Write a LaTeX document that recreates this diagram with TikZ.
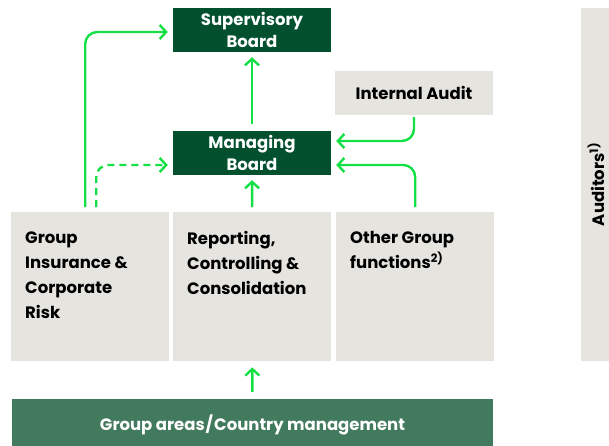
\documentclass[tikz,border=0pt]{standalone}
\usepackage{fontspec}
\setmainfont{Poppins}
\usetikzlibrary{arrows.meta}
\definecolor{boardgreen}{HTML}{03502E}
\definecolor{bargreen}{HTML}{427A5E}
\definecolor{boxgrey}{HTML}{E5E4DE}
\definecolor{linkgreen}{HTML}{14E046}
\newcommand{\boxtext}[1]{\parbox[t][110pt][t]{130pt}{\fontsize{16.5}{25}\selectfont #1}}
\begin{document}
\begin{tikzpicture}[x=1pt, y=-1pt,
      every node/.style={font=\bfseries},
      board/.style={rectangle, fill=boardgreen, text=white, minimum width=158pt, minimum height=44pt, inner sep=0pt, align=center, font=\bfseries\fontsize{16.5}{22}\selectfont},
      grey/.style={rectangle, fill=boxgrey, text=black, inner sep=0pt},
      unit/.style={grey, anchor=north west, inner xsep=14pt, inner ysep=19.5pt},
      link/.style={draw=linkgreen, line width=2.4pt, -{Straight Barb[length=6.5pt, width=14pt]}, rounded corners=12pt},
      dashlink/.style={link, dash pattern=on 7pt off 5pt}
  ]
    \useasboundingbox (0,0) rectangle (609,446);

    \node[board] (super) at (252,30) {Supervisory\\Board};
    \node[board] (managing) at (252,153) {Managing\\Board};
    \node[grey, minimum width=158pt, minimum height=44pt, font=\bfseries\fontsize{16.5}{22}\selectfont] (audit) at (414,93) {Internal Audit};

    \node[unit] (insurance) at (11,212) {\boxtext{Group\\Insurance \&\\Corporate\\Risk}};
    \node[unit] (reporting) at (173,212) {\boxtext{Reporting,\\Controlling \&\\Consolidation}};
    \node[unit] (other) at (336,212) {\boxtext{Other Group\\functions\textsuperscript{2)}}};

    \node[grey, rotate=90, minimum width=353pt, minimum height=30pt, font=\bfseries\fontsize{16.5}{22}\selectfont] (auditors) at (596,184.5) {Auditors\textsuperscript{1)}};

    \node[rectangle, fill=bargreen, text=white, minimum width=481pt, minimum height=52pt, inner sep=0pt, font=\bfseries\fontsize{16.5}{22}\selectfont] (areas) at (252.5,425) {Group areas\kern1pt/\kern1pt Country management};

    % reporting lines
    \draw[link, shorten <=7pt, shorten >=6pt] (areas.north) -- (reporting.south);
    \draw[link, shorten <=5pt, shorten >=5pt] (reporting.north) -- (managing.south);
    \draw[link, shorten <=7pt, shorten >=5pt] (managing.north) -- (super.south);
    \draw[link, shorten <=5pt, shorten >=5pt] ([xshift=-5pt]insurance.north) |- ([yshift=-2pt]super.west);
    \draw[dashlink, shorten <=5pt, shorten >=5pt] ([xshift=6pt]insurance.north) |- ([yshift=-12pt]managing.west);
    \draw[link, shorten <=2pt, shorten >=5pt] (audit.south) |- ([yshift=12pt]managing.east);
    \draw[link, shorten <=5pt, shorten >=5pt] (other.north) |- ([yshift=-12pt]managing.east);
  \end{tikzpicture}
\end{document}
